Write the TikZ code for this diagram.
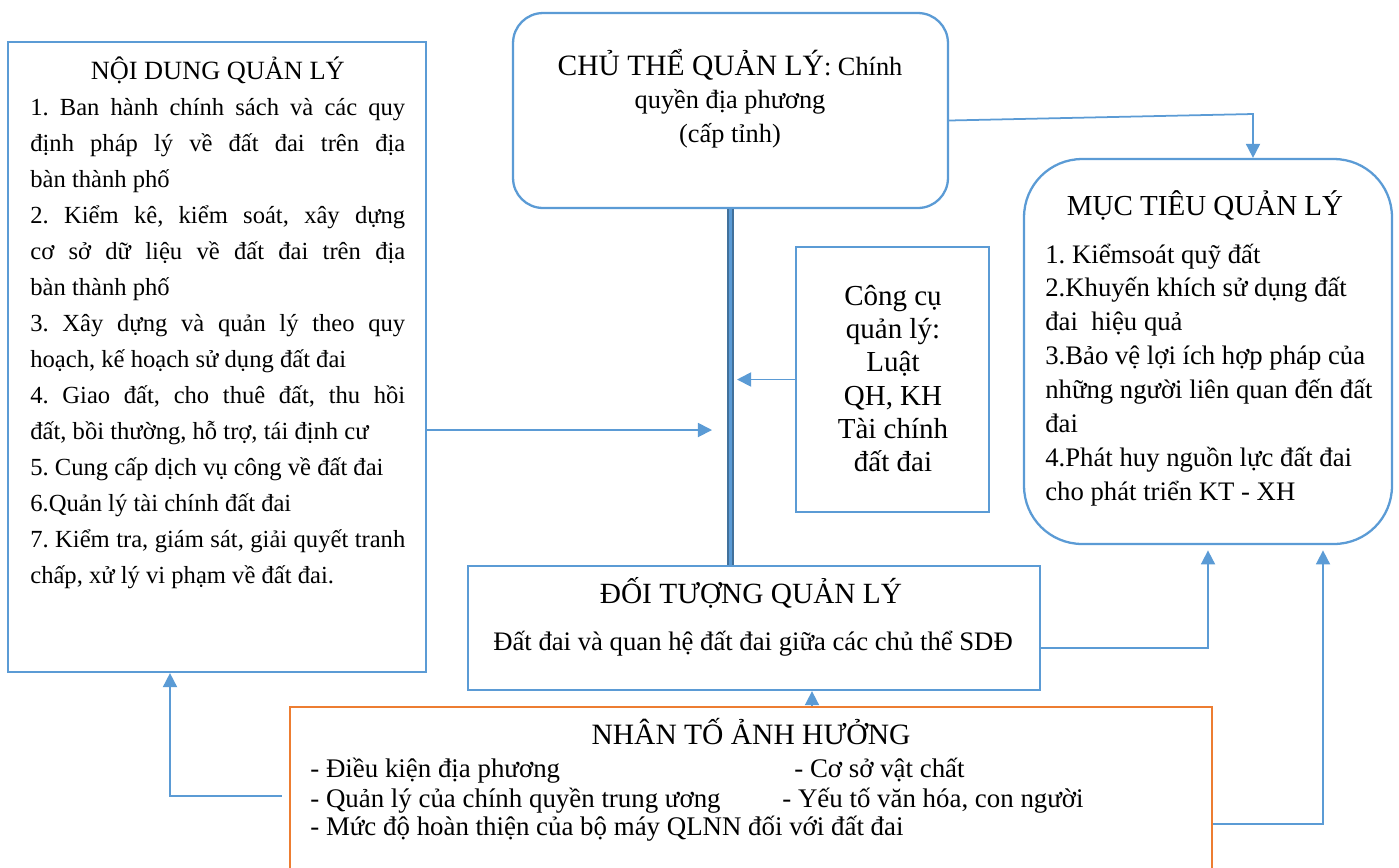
\documentclass[tikz,border=0pt]{standalone}
\usepackage{fontspec}
\setmainfont{Liberation Serif}
\usetikzlibrary{arrows.meta}
\definecolor{boxblue}{HTML}{5B9BD5}
\definecolor{darkblue}{HTML}{41719C}
\definecolor{boxorange}{HTML}{ED7D31}
\frenchspacing
\newlength{\ndw}\setlength{\ndw}{7.5cm}
\newcommand{\jline}[1]{\makebox[\ndw][s]{#1}}
\newcommand{\plainsp}{\spaceskip=0pt\xspaceskip=0pt}
\newcommand{\fixsp}{\spaceskip=\fontdimen2\font\xspaceskip=\fontdimen2\font}

\begin{document}
\begin{tikzpicture}[x=0.02cm,y=-0.02cm,
  bluebox/.style={draw=boxblue,line width=1.3pt,inner sep=0pt},
  txt/.style={inner sep=0pt,align=left},
  arr/.style={boxblue,line width=1pt,-{Triangle[width=8pt,length=8pt]}},
  trunk/.style={draw=darkblue,double=boxblue,double distance=1.4pt,line width=1.2pt}]
\clip (0,0) rectangle (1399,867);

% boxes
\node[bluebox,minimum width=8.36cm,minimum height=12.6cm] (noidung) at (217,357) {};
\node[bluebox,rounded corners=0.6cm,minimum width=8.7cm,minimum height=3.9cm] (chuthe) at (730.5,110.5) {};
\node[bluebox,rounded corners=1.16cm,minimum width=7.36cm,minimum height=7.7cm] (muctieu) at (1208,351.5) {};
\node[bluebox,minimum width=3.86cm,minimum height=5.3cm] (congcu) at (892.5,379.5) {};
\node[bluebox,minimum width=11.44cm,minimum height=2.48cm] (doituong) at (754,628) {};
\node[draw=boxorange,line width=1.5pt,minimum width=18.44cm,minimum height=3.36cm] (nhanto) at (751,791) {};

% texts
\node[txt,text width=7.8cm,anchor=base west,font=\fontsize{14}{20.5}\selectfont] (ndtext) at (30,79) {\plainsp
\makebox[\ndw]{\fontsize{15}{20.5}\selectfont NỘI DUNG QUẢN LÝ}\\
\jline{1. Ban hành chính sách và các quy}\\
\jline{định pháp lý về đất đai trên địa}\\
bàn thành phố\\
\jline{2. Kiểm kê, kiểm soát, xây dựng}\\
\jline{cơ sở dữ liệu về đất đai trên địa}\\
bàn thành phố\\
\jline{3. Xây dựng và quản lý theo quy}\\
hoạch, kế hoạch sử dụng đất đai\\
\jline{4. Giao đất, cho thuê đất, thu hồi}\\
đất, bồi thường, hỗ trợ, tái định cư\\
5. Cung cấp dịch vụ công về đất đai\\
6.Quản lý tài chính đất đai\\
\jline{7. Kiểm tra, giám sát, giải quyết tranh}\\
chấp, xử lý vi phạm về đất đai.};

\node[txt,text width=8cm,align=center,anchor=base,font=\fontsize{15}{19.3}\selectfont] (cttext) at (730,75)
  {\fixsp{\fontsize{16.8}{19.3}\selectfont\fixsp CHỦ THỂ QUẢN LÝ}: Chính\\ quyền địa phương\\ (cấp tỉnh)};

\node[inner sep=0pt,anchor=base,font=\fontsize{16.5}{20}\selectfont] (mttitle) at (1205,215) {MỤC TIÊU QUẢN LÝ};
\node[txt,text width=6.8cm,anchor=base west,font=\fontsize{15.2}{19.3}\selectfont] (mttext) at (1045,263) {\fixsp
1. Kiểmsoát quỹ đất\\
2.Khuyến khích sử dụng đất\\
đai\ \ hiệu quả\\
3.Bảo vệ lợi ích hợp pháp của\\
những người liên quan đến đất\\
đai\\
4.Phát huy nguồn lực đất đai\\
cho phát triển KT - XH};

\node[txt,text width=3.5cm,align=center,anchor=base,font=\fontsize{16.5}{19}\selectfont] (cctext) at (893,305)
  {\fixsp Công cụ\\ quản lý:\\ Luật\\ QH, KH\\ Tài chính\\ đất đai};

\node[inner sep=0pt,anchor=base,font=\fontsize{16.7}{20}\selectfont] (dttitle) at (751,603) {ĐỐI TƯỢNG QUẢN LÝ};
\node[inner sep=0pt,anchor=base,font=\fontsize{15.2}{20}\selectfont] (dttext) at (753,650) {Đất đai và quan hệ đất đai giữa các chủ thể SDĐ};

\node[inner sep=0pt,anchor=base,font=\fontsize{16.8}{20}\selectfont] (nttitle) at (751,744) {NHÂN TỐ ẢNH HƯỞNG};
\node[inner sep=0pt,anchor=base west,font=\fontsize{15.3}{17}\selectfont] (nt1) at (310,777) {- Điều kiện địa phương};
\node[inner sep=0pt,anchor=base west,font=\fontsize{15.3}{17}\selectfont] (nt2) at (794,777) {- Cơ sở vật chất};
\node[inner sep=0pt,anchor=base west,font=\fontsize{15.3}{17}\selectfont] (nt3) at (310,807) {- Quản lý của chính quyền trung ương};
\node[inner sep=0pt,anchor=base west,font=\fontsize{15.3}{17}\selectfont] (nt4) at (782,807) {- Yếu tố văn hóa, con người};
\node[inner sep=0pt,anchor=base west,font=\fontsize{15.3}{17}\selectfont] (nt5) at (310,835) {- Mức độ hoàn thiện của bộ máy QLNN đối với đất đai};

% connectors
\coordinate (tipL) at (712,430);
\coordinate (tipR) at (737,0);
\coordinate (bendT) at (1253,114);
\coordinate (bendR) at (1323,824);
\coordinate (bendL) at (170,796);
\coordinate (footN) at (812,0);

\draw[trunk] (chuthe.south) -- (chuthe.south |- doituong.north);
\draw[arr] (noidung.east |- tipL) -- (tipL);
\draw[arr] (congcu.west) -- (congcu.west -| tipR);
\draw[arr] ([yshift=-0.2cm]chuthe.east) -- (bendT) -- (bendT |- muctieu.north);
\draw[arr,shorten >=3pt] ([yshift=-0.4cm]doituong.east) -| (muctieu.south);
\draw[arr,shorten >=3pt] (nhanto.east |- bendR) -- (bendR) -- (bendR |- muctieu.south);
\draw[arr,shorten <=4pt] (nhanto.west |- bendL) -- (bendL) -- (bendL |- noidung.south);
\draw[arr] (nhanto.north -| footN) -- (doituong.south -| footN);
\end{tikzpicture}
\end{document}
